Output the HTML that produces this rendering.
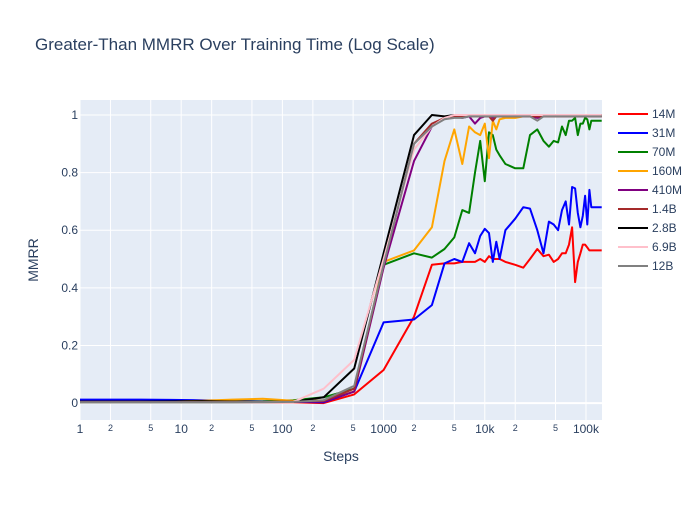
<!DOCTYPE html>
<html><head><meta charset="utf-8"><style>
body{margin:0;background:#fff;font-family:"Liberation Sans",Arial,sans-serif}
svg text{font-family:"Liberation Sans",Arial,sans-serif}
</style></head><body>
<svg id="chart" width="700" height="500">
<rect width="700" height="500" fill="#fff"/>
<text x="35" y="50" font-size="17" fill="#2a3f5f">Greater-Than MMRR Over Training Time (Log Scale)</text>
<rect x="80" y="100" width="522" height="320" fill="#e5ecf6"/>
<g id="grid"></g><g id="series"></g><g id="axes"></g><g id="legend"></g>
<text x="341" y="461" font-size="14" fill="#2a3f5f" text-anchor="middle">Steps</text>
<text transform="translate(38,260) rotate(-90)" font-size="14" fill="#2a3f5f" text-anchor="middle">MMRR</text>
</svg>
<script>
const steps=[1,2,4,8,16,32,64,128,256,512,1000,2000,3000,4000,5000,6000,7000,8000,9000,10000,11000,12000,13000,14000,16000,20000,24000,28000,33000,38000,43000,48000,53000,58000,63000,68000,73000,78000,83000,88000,93000,98000,103000,108000,113000,118000,123000,128000,133000,138000,143000];
const seriesNames=["14M","31M","70M","160M","410M","1.4B","2.8B","6.9B","12B"];
const seriesColors=["red","blue","green","orange","purple","brown","black","pink","gray"];
const v14M=[0.005,0.005,0.005,0.004,0.004,0.003,0.003,0.003,0.0,0.03,0.115,0.3,0.48,0.485,0.485,0.49,0.49,0.49,0.5,0.49,0.51,0.5,0.5,0.5,0.49,0.48,0.47,0.5,0.535,0.51,0.515,0.49,0.5,0.52,0.52,0.55,0.61,0.42,0.49,0.52,0.55,0.55,0.54,0.53,0.53,0.53,0.53,0.53,0.53,0.53,0.53];
const v31M=[0.012,0.012,0.012,0.011,0.01,0.008,0.006,0.004,0.003,0.04,0.28,0.29,0.34,0.485,0.5,0.49,0.555,0.52,0.58,0.605,0.59,0.49,0.56,0.5,0.6,0.64,0.68,0.675,0.6,0.52,0.63,0.62,0.6,0.67,0.7,0.62,0.75,0.745,0.66,0.61,0.65,0.72,0.62,0.74,0.68,0.68,0.68,0.68,0.68,0.68,0.68];
const v70M=[0.004,0.004,0.004,0.004,0.004,0.005,0.006,0.01,0.02,0.05,0.48,0.52,0.505,0.535,0.575,0.67,0.66,0.8,0.91,0.77,0.94,0.93,0.88,0.86,0.83,0.815,0.815,0.93,0.95,0.91,0.89,0.91,0.905,0.96,0.93,0.98,0.98,0.99,0.93,0.97,0.97,0.99,0.985,0.95,0.98,0.98,0.98,0.98,0.98,0.98,0.98];
const v160M=[0.004,0.004,0.004,0.005,0.008,0.012,0.015,0.008,0.01,0.04,0.49,0.53,0.61,0.84,0.95,0.83,0.96,0.94,0.93,0.97,0.85,0.98,0.95,0.985,0.99,0.99,0.995,0.995,0.995,0.995,0.995,0.995,0.995,0.995,0.995,0.995,0.995,0.995,0.995,0.995,0.995,0.995,0.995,0.995,0.995,0.995,0.995,0.995,0.995,0.995,0.995];
const v410M=[0.004,0.004,0.004,0.004,0.004,0.004,0.004,0.004,0.005,0.04,0.47,0.84,0.96,0.99,0.995,0.99,0.995,0.97,0.99,0.995,0.995,0.99,0.995,0.995,0.995,0.995,0.995,0.995,0.99,0.995,0.995,0.995,0.995,0.995,0.995,0.995,0.995,0.995,0.995,0.995,0.995,0.995,0.995,0.995,0.995,0.995,0.995,0.995,0.995,0.995,0.995];
const v1_4B=[0.003,0.003,0.003,0.003,0.003,0.003,0.003,0.004,0.008,0.05,0.48,0.9,0.97,0.99,0.995,0.995,0.995,0.995,0.995,0.995,0.995,0.98,0.995,0.995,0.995,0.995,0.995,0.995,0.995,0.995,0.995,0.995,0.995,0.995,0.995,0.995,0.995,0.995,0.995,0.995,0.995,0.995,0.995,0.995,0.995,0.995,0.995,0.995,0.995,0.995,0.995];
const v2_8B=[0.005,0.005,0.005,0.006,0.007,0.005,0.004,0.004,0.02,0.12,0.52,0.93,1.0,0.995,1,1,1,1,1,1,1,1,1,1,1,1,1,1,1,1,1,1,1,1,1,1,1,1,1,1,1,1,1,1,1,1,1,1,1,1,1];
const v6_9B=[0.003,0.003,0.003,0.003,0.003,0.003,0.003,0.004,0.05,0.15,0.5,0.88,0.96,0.99,1,1,1,1,1,1,1,1,1,1,1,1,1,1,1,1,1,1,1,1,1,1,1,1,1,1,1,1,1,1,1,1,1,1,1,1,1];
const v12B=[0.002,0.002,0.002,0.002,0.002,0.002,0.003,0.004,0.01,0.06,0.48,0.9,0.96,0.985,0.99,0.99,0.995,0.995,0.995,0.995,0.995,0.995,0.995,0.995,0.995,0.995,0.995,0.995,0.98,0.995,0.995,0.995,0.995,0.995,0.995,0.995,0.995,0.995,0.995,0.995,0.995,0.995,0.995,0.995,0.995,0.995,0.995,0.995,0.995,0.995,0.995];
const seriesValues=[v14M,v31M,v70M,v160M,v410M,v1_4B,v2_8B,v6_9B,v12B];
const yTicks=[0,0.2,0.4,0.6,0.8,1];
const yTickLabels=["0","0.2","0.4","0.6","0.8","1"];
const xMajor=[1,10,100,1000,10000,100000];
const xMajorLabels=["1","10","100","1000","10k","100k"];

const NS="http://www.w3.org/2000/svg";
const X0=80,X1=602,Y0=100,Y1=420,LMIN=0,LMAX=Math.log10(143000*1.0)+0.003;
const YMIN=-0.0587,YMAX=1.052;
const xs=s=>X0+(Math.log10(s)-LMIN)/(LMAX-LMIN)*(X1-X0);
const ys=v=>Y1-(v-YMIN)/(YMAX-YMIN)*(Y1-Y0);
function mk(tag,attrs,parent){const e=document.createElementNS(NS,tag);for(const k in attrs)e.setAttribute(k,attrs[k]);parent.appendChild(e);return e;}
const grid=document.getElementById('grid'),axes=document.getElementById('axes'),ser=document.getElementById('series'),leg=document.getElementById('legend');
// vertical grid 1,2,5
for(let d=0;d<=5;d++){for(const m of [1,2,5]){const s=m*Math.pow(10,d);const x=xs(s);if(x>X1)continue;
 const l=mk('line',{x1:x,x2:x,y1:Y0,y2:Y1,stroke:'#fff','stroke-width':1},grid);
 
 
 if(m!==1){const t=mk('text',{x:x,y:431,'font-size':9,fill:'#2a3f5f','text-anchor':'middle'},axes);t.textContent=String(m);
 
 }
}}
xMajor.forEach((s,i)=>{const t=mk('text',{x:xs(s),y:433,'font-size':12,fill:'#2a3f5f','text-anchor':'middle'},axes);t.textContent=xMajorLabels[i];
 
 });
yTicks.forEach((v,i)=>{const y=ys(v);const l=mk('line',{x1:X0,x2:X1,y1:y,y2:y,stroke:'#fff','stroke-width':v===0?2:1},grid);
 
 
 const t=mk('text',{x:78,y:y+4,'font-size':12,fill:'#2a3f5f','text-anchor':'end'},axes);t.textContent=yTickLabels[i];
 
 });
seriesValues.forEach((vals,k)=>{const pts=vals.map((v,i)=>xs(steps[i]).toFixed(1)+','+ys(v).toFixed(1)).join(' ');
 const p=mk('polyline',{points:pts,fill:'none',stroke:seriesColors[k],'stroke-width':2,'stroke-linejoin':'round'},ser);
 
 
 const y=114+k*19;
 const g=mk('g',{},leg);
 
 
 mk('line',{x1:618,x2:648,y1:y,y2:y,stroke:seriesColors[k],'stroke-width':2},g);
 const t=mk('text',{x:652,y:y+4,'font-size':12,fill:'#2a3f5f'},g);t.textContent=seriesNames[k];});
</script>
</body></html>
